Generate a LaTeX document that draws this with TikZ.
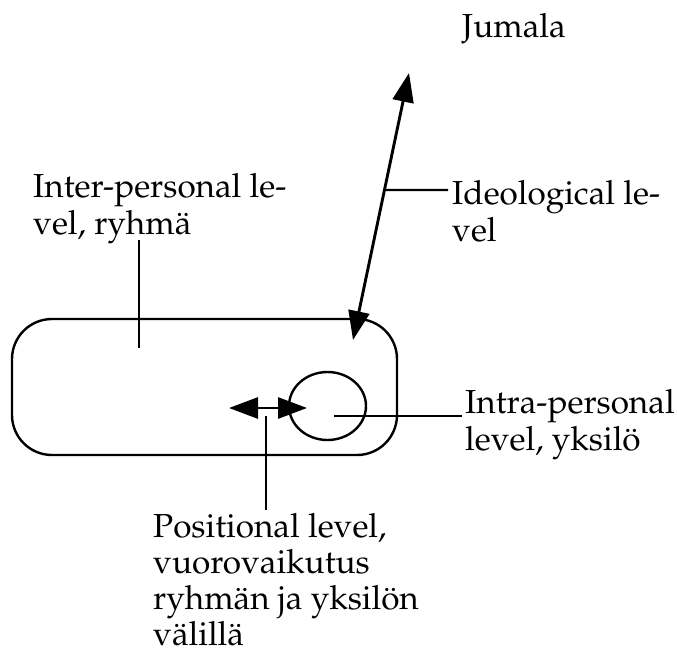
\documentclass[tikz,border=0pt]{standalone}
\usepackage[T1]{fontenc}
\usepackage{mathpazo}
\usetikzlibrary{arrows.meta,shapes.geometric,calc}
\tikzset{
  label text/.style={font=\fontsize{33.3}{37}\selectfont, align=left, inner sep=0pt, anchor=base west},
  outline/.style={line width=2.4pt},
  tick/.style={line width=2.4pt},
  bigarrow/.style={line width=2.9pt, {Triangle[length=29pt,width=21pt]}-{Triangle[length=29pt,width=21pt]}}
}
\begin{document}
\begin{tikzpicture}[x=1pt,y=-1pt]
  \useasboundingbox (0,0) rectangle (677,651);

  % the group and the individual inside it
  \node[outline, draw, rounded corners=40pt, minimum width=385pt, minimum height=136pt, inner sep=0pt] (group) at (204.5,387) {};
  \node[outline, draw, ellipse, minimum width=77pt, minimum height=68pt, inner sep=0pt] (self) at (327.5,406) {};

  % labels (placed at the baseline of their last line)
  \node[label text] (god) at (462,37) {Jumala};
  \node[label text] (inter) at (33,234) {Inter-personal le-\\vel, ryhmä};
  \node[label text] (ideo) at (452,241) {Ideological le-\\vel};
  \node[label text] (intra) at (465,450) {Intra-personal\\level, yksilö};
  \node[label text, font=\fontsize{33.3}{36}\selectfont, text depth=0pt] (pos) at (153,645.5) {Positional level,\\vuorovaikutus\\ryhmän ja yksilön\\välillä};

  % ideological axis between the individual and god
  \coordinate (ideoLow) at (353,340);
  \coordinate (ideoHigh) at (409,73);
  \draw[bigarrow] (ideoLow) -- (ideoHigh);
  \coordinate (ideoMid) at ($(ideoLow)!0.5618!(ideoHigh)$);

  % positional interaction arrow
  \coordinate (posL) at (229,408);
  \coordinate (posR) at (307,408);
  \draw[bigarrow] (posL) -- (posR);

  % leader lines
  \coordinate (interTop) at (139,240);
  \coordinate (interBot) at (139,348);
  \draw[tick] (interTop) -- (interBot);

  \coordinate (ideoEnd) at (448,190);
  \draw[tick] (ideoMid) -- (ideoEnd);

  \coordinate (intraStart) at (334,416);
  \coordinate (intraEnd) at (462,416);
  \draw[tick] (intraStart) -- (intraEnd);

  \coordinate (posTop) at (266,416);
  \coordinate (posBot) at (266,510);
  \draw[tick] (posTop) -- (posBot);
\end{tikzpicture}
\end{document}
